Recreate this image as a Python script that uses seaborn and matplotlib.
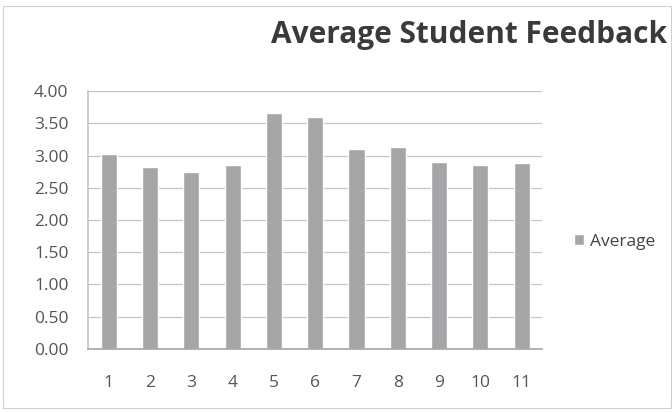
import matplotlib
matplotlib.use("Agg")
import matplotlib.pyplot as plt
import pandas as pd
import seaborn as sns
from matplotlib.patches import Rectangle

# values
questions = ["1", "2", "3", "4", "5", "6", "7", "8", "9", "10", "11"]
averages = [3.02, 2.82, 2.75, 2.85, 3.66, 3.60, 3.10, 3.14, 2.90, 2.85, 2.89]
series_name = "Average"
y_ticks = [0.0, 0.5, 1.0, 1.5, 2.0, 2.5, 3.0, 3.5, 4.0]

df = pd.DataFrame({"question": questions, "score": averages, "series": series_name})

sns.set_theme(style="white")
plt.rcParams["font.family"] = ["Open Sans", "DejaVu Sans"]

fig = plt.figure(figsize=(6.72, 4.12), dpi=100)
ax = fig.add_axes([0.131, 0.153, 0.676, 0.626])

sns.barplot(
    data=df,
    x="question",
    y="score",
    hue="series",
    order=questions,
    palette={series_name: "#a4a4a9"},
    width=0.39,
    ax=ax,
)

ax.set_ylim(0, 4.0)
ax.set_yticks(y_ticks)
ax.set_yticklabels([f"{t:.2f}" for t in y_ticks])
ax.set_xlim(-0.5, len(questions) - 0.5)
ax.set_xlabel("")
ax.set_ylabel("")
ax.yaxis.grid(True, color="#c4c4c4", linewidth=0.9)
ax.set_axisbelow(True)
ax.tick_params(axis="both", length=0, labelsize=12.5, labelcolor="#555555")
ax.tick_params(axis="x", pad=19)
ax.tick_params(axis="y", pad=14)
for side in ["top", "right"]:
    ax.spines[side].set_visible(False)
ax.spines["left"].set_color("#c8c8c8")
ax.spines["bottom"].set_color("#a8a8a8")

leg = ax.legend(
    loc="center left",
    bbox_to_anchor=(1.035, 0.415),
    frameon=False,
    fontsize=12.5,
    handlelength=0.6,
    handleheight=0.6,
    handletextpad=0.35,
)
for t in leg.get_texts():
    t.set_color("#444444")

fig.text(0.993, 0.915, "Average Student Feedback", ha="right", va="center",
         fontsize=21.5, fontweight="bold", color="#3a3a3a")

# light outer border of the chart area
fig.patches.append(Rectangle((0.004, 0.01), 0.995, 0.975, transform=fig.transFigure,
                             fill=False, edgecolor="#d0d0d0", linewidth=0.8))

fig.savefig("out.png", dpi=100)
